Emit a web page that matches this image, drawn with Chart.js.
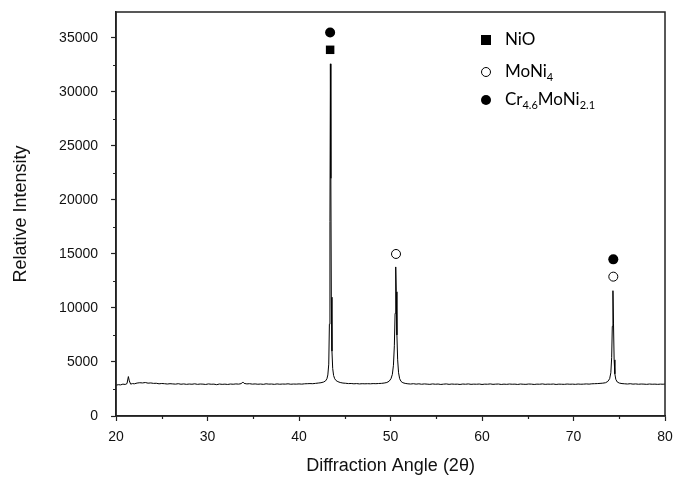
<!DOCTYPE html>
<html>
<head>
<meta charset="utf-8">
<script src="https://cdn.jsdelivr.net/npm/chart.js@4.4.1/dist/chart.umd.min.js"></script>
<style>
  html, body { margin: 0; padding: 0; background: #fff; overflow: hidden; }
  #wrap { width: 676px; height: 477px; position: relative; }
</style>
</head>
<body>
<div id="wrap"><canvas id="xrd"></canvas></div>
<script>
// XRD pattern (angle in degrees 2-theta, intensity in counts)
var angle = [
  20.0, 20.25, 20.5, 20.75, 21.0, 21.2, 21.35, 21.45, 21.6, 21.8,
  22.0, 22.3, 22.6, 22.9, 23.2, 23.5, 23.8, 24.1, 24.4, 24.7,
  25.0, 25.3, 25.6, 25.9, 26.2, 26.5, 26.8, 27.1, 27.4, 27.7,
  28.0, 28.3, 28.6, 28.9, 29.2, 29.5, 29.8, 30.1, 30.4, 30.7,
  31.0, 31.3, 31.6, 31.9, 32.2, 32.5, 32.8, 33.1, 33.4, 33.7,
  33.85, 34.0, 34.3, 34.6, 34.9, 35.2, 35.5, 35.8, 36.1, 36.4,
  36.7, 37.0, 37.3, 37.6, 37.9, 38.2, 38.5, 38.8, 39.1, 39.4,
  39.7, 40.0, 40.3, 40.6, 40.9, 41.2, 41.5, 41.8, 42.1, 42.4,
  42.7, 42.9, 43.05, 43.15, 43.25, 43.32, 43.38, 43.43, 43.48, 43.53,
  43.6, 43.68, 43.78, 43.9, 44.05, 44.25, 44.5, 44.8, 45.1, 45.4,
  45.7, 46.0, 46.3, 46.6, 46.9, 47.2, 47.5, 47.8, 48.1, 48.4,
  48.7, 49.0, 49.3, 49.6, 49.85, 50.05, 50.2, 50.32, 50.42, 50.5,
  50.57, 50.63, 50.7, 50.78, 50.88, 51.0, 51.15, 51.35, 51.6, 51.9,
  52.2, 52.5, 52.8, 53.1, 53.4, 53.7, 54.0, 54.3, 54.6, 54.9,
  55.2, 55.5, 55.8, 56.1, 56.4, 56.7, 57.0, 57.3, 57.6, 57.9,
  58.2, 58.5, 58.8, 59.1, 59.4, 59.7, 60.0, 60.3, 60.6, 60.9,
  61.2, 61.5, 61.8, 62.1, 62.4, 62.7, 63.0, 63.3, 63.6, 63.9,
  64.2, 64.5, 64.8, 65.1, 65.4, 65.7, 66.0, 66.3, 66.6, 66.9,
  67.2, 67.5, 67.8, 68.1, 68.4, 68.7, 69.0, 69.3, 69.6, 69.9,
  70.2, 70.5, 70.8, 71.1, 71.4, 71.7, 72.0, 72.3, 72.6, 72.9,
  73.2, 73.5, 73.75, 73.95, 74.08, 74.17, 74.24, 74.31, 74.37, 74.44,
  74.52, 74.62, 74.78, 75.0, 75.3, 75.6, 75.9, 76.2, 76.5, 76.8,
  77.1, 77.4, 77.7, 78.0, 78.3, 78.6, 78.9, 79.2, 79.5, 79.8, 80.0
];
var intensity = [
  2850, 2900, 2880, 2950, 2920, 3000, 3650, 3250, 2950, 3000,
  2980, 3050, 3080, 3060, 3100, 3040, 3060, 3020, 3030, 2980,
  3010, 2990, 2960, 2990, 2970, 2950, 2990, 2940, 2970, 2930,
  2960, 2940, 2980, 2930, 2960, 2950, 2920, 2970, 2940, 2950,
  2900, 2960, 2930, 2950, 2920, 2960, 2940, 2970, 2950, 3000,
  3150, 3020, 2970, 2990, 2950, 2970, 2940, 2960, 2930, 2980,
  2950, 2960, 2930, 2970, 2940, 2960, 2950, 2980, 2940, 2960,
  2950, 2970, 2950, 2980, 2990, 3000, 2990, 3020, 3050, 3080,
  3150, 3250, 3450, 3800, 4800, 8500, 18000, 32600, 22000, 11000,
  6000, 4400, 3750, 3450, 3280, 3180, 3100, 3050, 3030, 3000,
  3010, 2980, 3000, 2970, 2990, 2980, 2990, 2980, 3000, 2990,
  3010, 3020, 3050, 3100, 3220, 3450, 3850, 4700, 6500, 9500,
  13800, 11500, 7500, 5200, 4000, 3450, 3200, 3080, 3020, 2980,
  2960, 2990, 2950, 2980, 2940, 2970, 2950, 2930, 2970, 2940,
  2960, 2920, 2950, 2970, 2930, 2960, 2940, 2950, 2920, 2960,
  2940, 2970, 2930, 2950, 2940, 2960, 2920, 2950, 2940, 2970,
  2930, 2950, 2960, 2920, 2950, 2930, 2960, 2940, 2950, 2920,
  2960, 2940, 2930, 2960, 2950, 2920, 2950, 2940, 2970, 2930,
  2950, 2940, 2960, 2920, 2950, 2940, 2930, 2960, 2940, 2950,
  2930, 2960, 2940, 2950, 2970, 2950, 2980, 2990, 3000, 3020,
  3040, 3080, 3200, 3450, 4000, 5400, 8300, 11600, 8600, 5200,
  3900, 3400, 3150, 3050, 3000, 2980, 2960, 2990, 2950, 2970,
  2940, 2960, 2950, 2930, 2960, 2940, 2950, 2930, 2950, 2940, 2960
];

// phase markers placed over the peaks
var nioPts = [{ x: 43.4, y: 33900 }];
var moni4Pts = [{ x: 50.6, y: 15000 }, { x: 74.35, y: 12900 }];
var crMoNiPts = [{ x: 43.4, y: 35500 }, { x: 74.35, y: 14500 }];

var xTickLabels = [20, 30, 40, 50, 60, 70, 80];
var yTickLabels = [0, 5000, 10000, 15000, 20000, 25000, 30000, 35000];

var spectrum = angle.map(function (a, i) { return { x: a, y: intensity[i] }; });

var frame = {
  id: 'frame',
  afterDraw: function (chart) {
    var c = chart.ctx, a = chart.chartArea;
    var xs = chart.scales.x, ys = chart.scales.y;
    c.save();
    c.strokeStyle = '#222';
    c.lineWidth = 1.5;
    c.strokeRect(a.left, a.top, a.right - a.left, a.bottom - a.top);
    // minor ticks
    c.lineWidth = 1.2;
    c.beginPath();
    for (var v = 2500; v < 37400; v += 5000) {
      var py = Math.round(ys.getPixelForValue(v)) + 0.5;
      c.moveTo(a.left, py); c.lineTo(a.left - 3, py);
    }
    for (var u = 25; u < 80; u += 10) {
      var px = Math.round(xs.getPixelForValue(u)) + 0.5;
      c.moveTo(px, a.bottom); c.lineTo(px, a.bottom + 3);
    }
    c.stroke();

    // legend
    var lx = 486, tx = 505;
    c.fillStyle = '#000';
    c.strokeStyle = '#000';
    c.lineWidth = 1;
    c.fillRect(lx - 5, 35, 10, 10);
    c.beginPath(); c.arc(lx, 72, 4.5, 0, Math.PI * 2); c.stroke();
    c.beginPath(); c.arc(lx, 100, 5, 0, Math.PI * 2); c.fill();

    c.textBaseline = 'middle';
    c.textAlign = 'left';
    var big = '17px Lato, "Liberation Sans", sans-serif';
    var small = '11px Lato, "Liberation Sans", sans-serif';
    function run(parts, x, y) {
      parts.forEach(function (p) {
        c.font = p[1] ? small : big;
        c.fillText(p[0], x, y + (p[1] ? 5 : 0));
        x += c.measureText(p[0]).width;
      });
    }
    run([['NiO', 0]], tx, 40);
    run([['MoNi', 0], ['4', 1]], tx, 72);
    run([['Cr', 0], ['4.6', 1], ['MoNi', 0], ['2.1', 1]], tx, 100);
    c.restore();
  }
};

var plainNum = function (v) { return String(v); };

new Chart(document.getElementById('xrd'), {
  type: 'scatter',
  data: {
    datasets: [
      {
        label: 'XRD',
        data: spectrum,
        showLine: true,
        borderColor: '#000',
        borderWidth: 1,
        pointRadius: 0,
        tension: 0
      },
      {
        label: 'NiO',
        data: nioPts,
        pointStyle: 'rect',
        pointRadius: 6,
        backgroundColor: '#000',
        borderColor: '#000',
        borderWidth: 0
      },
      {
        label: 'MoNi4',
        data: moni4Pts,
        pointStyle: 'circle',
        pointRadius: 4.5,
        backgroundColor: '#fff',
        borderColor: '#000',
        borderWidth: 1
      },
      {
        label: 'Cr4.6MoNi2.1',
        data: crMoNiPts,
        pointStyle: 'circle',
        pointRadius: 5,
        backgroundColor: '#000',
        borderColor: '#000',
        borderWidth: 0
      }
    ]
  },
  options: {
    responsive: true,
    maintainAspectRatio: false,
    animation: false,
    layout: { autoPadding: false, padding: { top: 12, right: 11, bottom: 0, left: 0 } },
    plugins: {
      legend: { display: false },
      tooltip: { enabled: false }
    },
    scales: {
      x: {
        type: 'linear',
        min: 20,
        max: 80,
        afterBuildTicks: function (s) {
          s.ticks = xTickLabels.map(function (v) { return { value: v }; });
        },
        afterFit: function (s) { s.paddingLeft = 0; s.paddingRight = 0; },
        grid: { drawOnChartArea: false, tickLength: 5, tickColor: '#222', tickWidth: 1.2 },
        border: { display: true, color: '#222', width: 1.5 },
        ticks: {
          padding: 8,
          color: '#111',
          callback: plainNum,
          font: { family: '"Liberation Sans", Arial, sans-serif', size: 14 }
        },
        title: {
          display: true,
          text: 'Diffraction Angle (2\u03b8)',
          color: '#111',
          font: { family: '"Liberation Sans", Arial, sans-serif', size: 18 },
          padding: { top: 1.6, bottom: 0 }
        }
      },
      y: {
        type: 'linear',
        min: 0,
        max: 37400,
        afterBuildTicks: function (s) {
          s.ticks = yTickLabels.map(function (v) { return { value: v }; });
        },
        afterFit: function (s) { s.paddingTop = 0; s.paddingBottom = 0; },
        grid: { drawOnChartArea: false, tickLength: 5, tickColor: '#222', tickWidth: 1.2 },
        border: { display: true, color: '#222', width: 1.5 },
        ticks: {
          padding: 13,
          color: '#111',
          callback: plainNum,
          font: { family: '"Liberation Sans", Arial, sans-serif', size: 14 }
        },
        title: {
          display: true,
          text: 'Relative Intensity',
          color: '#111',
          font: { family: '"Liberation Sans", Arial, sans-serif', size: 18 },
          padding: { top: 10, bottom: 14.5 }
        }
      }
    }
  },
  plugins: [frame]
});
</script>
</body>
</html>
